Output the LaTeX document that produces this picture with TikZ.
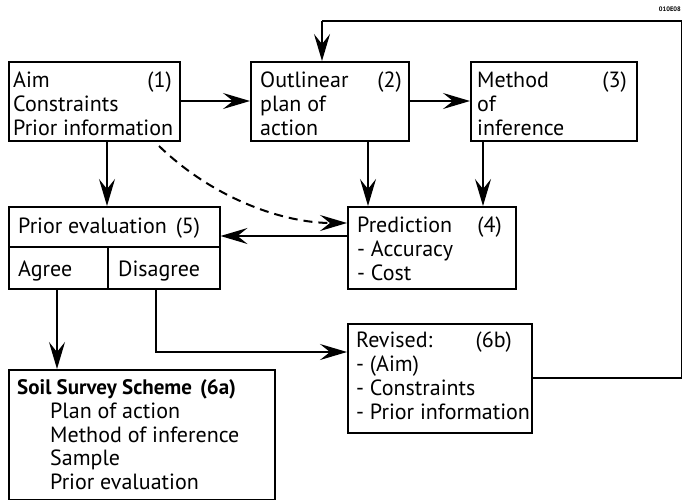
\documentclass[tikz,border=0pt]{standalone}
\usepackage{fontspec}
\setmainfont{PT Sans}
\usetikzlibrary{arrows.meta}
\begin{document}
\begin{tikzpicture}[x=1pt,y=-1pt,
  box/.style={draw,line width=1.5pt,anchor=north west,inner sep=0pt},
  txt/.style={anchor=base west,inner sep=0pt,font=\fontsize{22}{24}\selectfont},
  txtr/.style={anchor=base east,inner sep=0pt,font=\fontsize{22}{24}\selectfont},
  conn/.style={line width=1.4pt},
  arr/.style={conn,-{Stealth[length=27pt,width=16pt,inset=10pt]}}]
\useasboundingbox (0,0) rectangle (682,499);
% boxes
\node[box,minimum width=171pt,minimum height=79pt] (b1) at (8,61) {};
\node[box,minimum width=158pt,minimum height=79pt] (b2) at (250,61) {};
\node[box,minimum width=166pt,minimum height=79pt] (b3) at (470,61) {};
\node[box,minimum width=168pt,minimum height=82pt] (b4) at (347,206) {};
\node[box,minimum width=211pt,minimum height=40pt] (b5) at (8,206) {};
\node[box,minimum width=99pt,minimum height=42pt] (agree) at (8,246) {};
\node[box,minimum width=112pt,minimum height=42pt] (disagree) at (107,246) {};
\node[box,minimum width=266pt,minimum height=130pt] (b6a) at (8,369) {};
\node[box,minimum width=184pt,minimum height=109pt] (b6b) at (347,323) {};
% texts
\node[txt] (t1a) at (13,87) {Aim};
\node[txtr] (t1n) at (172,87) {(1)};
\node[txt] (t1b) at (13,111) {Constraints};
\node[txt] (t1c) at (13,135) {Prior information};
\node[txt] (t2a) at (260,87) {Outlinear};
\node[txtr] (t2n) at (402,87) {(2)};
\node[txt] (t2b) at (260,111) {plan of};
\node[txt] (t2c) at (260,135) {action};
\node[txt] (t3a) at (477,87) {Method};
\node[txtr] (t3n) at (627,87) {(3)};
\node[txt] (t3b) at (477,111) {of};
\node[txt] (t3c) at (477,135) {inference};
\node[txt] (t4a) at (357,232) {Prediction};
\node[txtr] (t4n) at (502,232) {(4)};
\node[txt] (t4b) at (357,256) {- Accuracy};
\node[txt] (t4c) at (357,280) {- Cost};
\node[txt] (t5) at (18,233) {Prior evaluation\hspace{9pt}(5)};
\node[txt] (tag) at (18,276) {Agree};
\node[txt] (tdis) at (118,276) {Disagree};
\node[txt,font=\fontsize{21}{24}\selectfont\bfseries] (t6a) at (17,394) {Soil Survey Scheme\hspace{8pt}(6a)};
\node[txt] (t6a1) at (50,418) {Plan of action};
\node[txt] (t6a2) at (50,442) {Method of inference};
\node[txt] (t6a3) at (50,465) {Sample};
\node[txt] (t6a4) at (50,489) {Prior evaluation};
\node[txt] (t6b) at (356,347) {Revised:};
\node[txtr] (t6bn) at (512,347) {(6b)};
\node[txt] (t6b1) at (356,371) {- (Aim)};
\node[txt] (t6b2) at (356,395) {- Constraints};
\node[txt] (t6b3) at (356,419) {- Prior information};
\node[anchor=east,inner sep=0pt,font=\fontsize{6.5}{7}\selectfont\bfseries] (code) at (681,9) {010E08};
% connectors
\draw[arr] (b1.east |- 0,101) -- (b2.west |- 0,101);
\draw[arr] (b2.east |- 0,101) -- (b3.west |- 0,101);
\draw[arr] (b1.south -| 107,0) -- (b5.north -| 107,0);
\draw[arr] (b2.south -| 368,0) -- (b4.north -| 368,0);
\draw[arr] (b3.south -| 483,0) -- (b4.north -| 483,0);
\draw[arr] (b4.west |- 0,236) -- (b5.east |- 0,236);
\draw[arr,line width=2pt,dash pattern=on 9pt off 6pt] (159,146) .. controls (215,200) and (285,223) .. (b4.west |- 0,223);
\draw[arr] (agree.south -| 57,0) -- (b6a.north -| 57,0);
\coordinate (dturn) at (156,352);
\draw[arr] (disagree.south -| dturn) -- (dturn) -- (b6b.west |- dturn);
\coordinate (fr) at (682,378);
\coordinate (ftr) at (682,21);
\coordinate (ftl) at (322,21);
\draw[conn] (b6b.east |- fr) -- (fr) -- (ftr) -- (ftl);
\draw[arr] (ftl) -- (b2.north -| ftl);
\end{tikzpicture}
\end{document}
